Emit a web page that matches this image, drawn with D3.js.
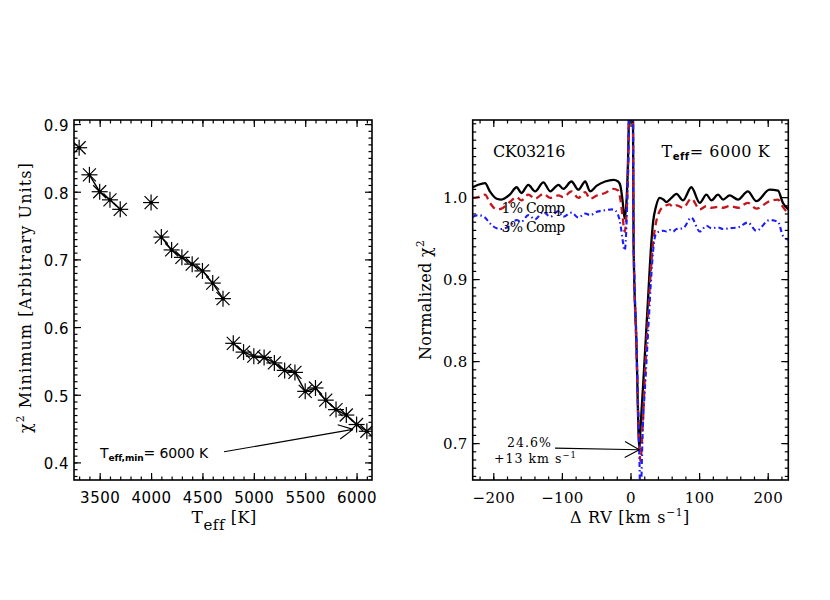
<!DOCTYPE html>
<html><head><meta charset="utf-8">
<script src="https://cdn.jsdelivr.net/npm/d3@7"></script>
<style>body{margin:0;background:#fff} text{white-space:pre}</style>
</head><body><svg id="c" width="830" height="600"></svg>
<script>
// ---------------- data: left panel ----------------
const teff = [3300,3400,3500,3600,3700,4000,4100,4200,4300,4400,4500,4600,4700,4800,4900,5000,5100,5200,5300,5400,5500,5600,5700,5800,5900,6000,6100];
const chi2Min = [0.865,0.825,0.800,0.788,0.774,0.784,0.733,0.714,0.703,0.693,0.683,0.665,0.642,0.576,0.563,0.557,0.555,0.547,0.536,0.533,0.505,0.510,0.492,0.478,0.470,0.456,0.446];
const lineRuns = [[3400,3700],[4100,4700],[4800,6100]];
const xTicksLeft = [3500,4000,4500,5000,5500,6000];
const yTicksLeft = [0.4,0.5,0.6,0.7,0.8,0.9];

// ---------------- data: right panel ----------------
const rv = [-230,-222,-212,-205,-195,-188,-176,-166,-159,-149,-139,-127,-117,-105,-98,-86,-76,-66,-59,-49,-37,-25,-18,-14.5,-11.5,-8.5,-5.5,-2,0.5,3.5,4.5,8.5,13,14.5,18,22,26,30,33,37,42.6,48,52.4,57,62,67,76.6,88.7,101,110.6,118,127.6,135,144.5,156.7,171,183.4,202.8,215,222,230];
const chiNoComp = [1.012,1.015,1.017,1.007,0.998,0.997,1.003,1.012,1.005,1.015,1.007,1.018,1.007,1.015,1.010,1.019,1.009,1.019,1.007,1.014,1.019,1.021,1.019,1.013,0.995,0.974,1.000,1.120,1.500,1.130,0.940,0.826,0.692,0.717,0.765,0.823,0.882,0.940,0.970,0.988,0.999,0.997,0.994,0.997,1.001,1.004,0.996,1.012,0.993,1.003,0.996,1.003,0.997,1.002,0.997,1.007,0.995,1.009,1.008,0.993,0.985];
const chi1Comp = [0.999,1.000,1.003,0.993,0.985,0.986,0.994,1.000,0.996,1.003,0.998,1.004,0.999,1.002,1.000,1.007,0.999,1.006,0.998,1.002,1.005,1.010,1.008,0.996,0.976,0.958,0.985,1.120,1.500,1.140,0.950,0.820,0.695,0.678,0.725,0.800,0.860,0.915,0.945,0.968,0.983,0.988,0.990,0.991,0.988,0.990,0.987,0.998,0.985,0.989,0.987,0.988,0.987,0.989,0.987,0.993,0.986,0.995,0.997,0.988,0.980];
const chi3Comp = [0.976,0.978,0.975,0.968,0.962,0.961,0.965,0.972,0.970,0.978,0.973,0.982,0.976,0.983,0.976,0.981,0.975,0.980,0.978,0.982,0.984,0.985,0.978,0.966,0.948,0.935,0.975,1.120,1.500,1.140,0.955,0.830,0.680,0.630,0.720,0.780,0.840,0.900,0.935,0.955,0.958,0.959,0.958,0.960,0.958,0.961,0.962,0.975,0.958,0.965,0.962,0.963,0.961,0.962,0.963,0.969,0.959,0.972,0.970,0.953,0.948];
const xTicksRight = [-200,-100,0,100,200];
const yTicksRight = [0.7,0.8,0.9,1.0];

// ---------------- drawing ----------------
const SERIF = "'DejaVu Serif', serif", SANS = "'DejaVu Sans', sans-serif";
const svg = d3.select("#c");

function rich(parent, x, y, parts, opts = {}) {
  const t = parent.append("text").attr("x", x).attr("y", y)
    .attr("text-anchor", opts.anchor || "start").attr("fill", "#000");
  if (opts.rotate) t.attr("transform", `rotate(${opts.rotate},${x},${y})`);
  let shift = 0;
  parts.forEach(p => {
    const s = p.shift || 0;
    t.append("tspan").attr("dy", s - shift).attr("font-size", p.size)
      .attr("font-family", p.font || SERIF).attr("font-weight", p.weight || "normal").text(p.t);
    shift = s;
  });
  if (opts.width) {
    const len = t.node().getComputedTextLength();
    const n = t.text().length;
    t.attr("letter-spacing", (opts.width - len) / n);
  }
  return t;
}

function arrow(g, x1, y1, x2, y2, len, angDeg) {
  g.append("line").attr("x1", x1).attr("y1", y1).attr("x2", x2).attr("y2", y2);
  const a = Math.atan2(y2 - y1, x2 - x1) + Math.PI, d = angDeg * Math.PI / 180;
  [a - d, a + d].forEach(b => g.append("line").attr("x1", x2).attr("y1", y2)
    .attr("x2", x2 + len * Math.cos(b)).attr("y2", y2 + len * Math.sin(b)));
}

function frame(g, x, y, box, xMaj, xMin, yMaj, yMin, xFmt, yFmt, font, fs, ls, labelDy) {
  const style = sel => {
    sel.select(".domain").remove();
    sel.selectAll("line").attr("stroke", "#000").attr("stroke-width", 1.2);
    sel.attr("font-family", font).attr("font-size", fs);
    sel.selectAll("text").attr("fill", "#000").attr("letter-spacing", ls);
  };
  const M = 7, m = 3.5;
  g.append("g").attr("transform", `translate(0,${box.y1})`)
    .call(d3.axisBottom(x).tickValues(xMaj).tickSize(-M).tickPadding(12.5).tickFormat(xFmt)).call(style);
  g.append("g").attr("transform", `translate(0,${box.y1})`)
    .call(d3.axisBottom(x).tickValues(xMin).tickSize(-m).tickFormat("")).call(style);
  g.append("g").attr("transform", `translate(0,${box.y0})`)
    .call(d3.axisTop(x).tickValues(xMaj).tickSize(-M).tickFormat("")).call(style);
  g.append("g").attr("transform", `translate(0,${box.y0})`)
    .call(d3.axisTop(x).tickValues(xMin).tickSize(-m).tickFormat("")).call(style);
  const la = g.append("g").attr("transform", `translate(${box.x0},0)`)
    .call(d3.axisLeft(y).tickValues(yMaj).tickSize(-M).tickPadding(5).tickFormat(yFmt)).call(style);
  la.selectAll("text").attr("dy", labelDy);
  g.append("g").attr("transform", `translate(${box.x0},0)`)
    .call(d3.axisLeft(y).tickValues(yMin).tickSize(-m).tickFormat("")).call(style);
  g.append("g").attr("transform", `translate(${box.x1},0)`)
    .call(d3.axisRight(y).tickValues(yMaj).tickSize(-M).tickFormat("")).call(style);
  g.append("g").attr("transform", `translate(${box.x1},0)`)
    .call(d3.axisRight(y).tickValues(yMin).tickSize(-m).tickFormat("")).call(style);
  g.append("rect").attr("x", box.x0).attr("y", box.y0)
    .attr("width", box.x1 - box.x0).attr("height", box.y1 - box.y0)
    .attr("fill", "none").attr("stroke", "#000").attr("stroke-width", 1.6);
}

// ======== Left panel ========
const L = {x0: 74, x1: 372, y0: 120, y1: 480};
const xL = d3.scaleLinear().domain([3250, 6150]).range([L.x0, L.x1]);
const yL = d3.scaleLinear().domain([0.374, 0.906]).range([L.y1, L.y0]);
const gL = svg.append("g");
svg.append("clipPath").attr("id", "clipL").append("rect")
  .attr("x", L.x0).attr("y", L.y0).attr("width", L.x1 - L.x0).attr("height", L.y1 - L.y0);
const ptsL = teff.map((t, i) => [t, chi2Min[i]]);
const pl = gL.append("g").attr("clip-path", "url(#clipL)");
const lineL = d3.line().x(d => xL(d[0])).y(d => yL(d[1]));
lineRuns.forEach(([a, b]) => {
  pl.append("path").datum(ptsL.filter(d => d[0] >= a && d[0] <= b))
    .attr("d", lineL).attr("fill", "none").attr("stroke", "#000").attr("stroke-width", 1.4);
});
const star = pl.selectAll("g.star").data(ptsL).join("g")
  .attr("transform", d => `translate(${xL(d[0])},${yL(d[1])})`)
  .attr("stroke", "#000").attr("stroke-width", 1.2);
[[-8, 0, 8, 0], [0, -8, 0, 8], [-6.5, -6.5, 6.5, 6.5], [-6.5, 6.5, 6.5, -6.5]].forEach(([a, b, c, d]) =>
  star.append("line").attr("x1", a).attr("y1", b).attr("x2", c).attr("y2", d));
star.append("circle").attr("r", 1.9).attr("fill", "#000").attr("stroke", "none");

frame(gL, xL, yL, L, xTicksLeft, d3.range(3300, 6101, 100), yTicksLeft,
  d3.range(38, 91).map(v => v / 100), d3.format("d"), d3.format(".1f"), SANS, 15, 0.5, "0.42em");

rich(gL, 31, 297.5, [{t: "χ", size: 16}, {t: "2", size: 10.5, shift: -7}, {t: " Minimum [Arbitrary Units]", size: 16, shift: 0}],
  {anchor: "middle", rotate: -90, width: 271});
rich(gL, 191.5, 522.5, [{t: "T", size: 17}, {t: "eff", size: 15, shift: 7}, {t: " [K]", size: 16, shift: 0}], {width: 65});
rich(gL, 100, 458, [{t: "T", size: 14, font: SANS}, {t: "eff,min", size: 9, font: SANS, weight: "bold", shift: 3},
  {t: "= 6000 K", size: 14, font: SANS, shift: 0}], {width: 108});
const aL = gL.append("g").attr("stroke", "#000").attr("stroke-width", 1.1);
arrow(aL, xL(4710), yL(0.4157), xL(5965), yL(0.4488), 16, 27);

// ======== Right panel ========
const R = {x0: 472.7, x1: 788.3, y0: 120, y1: 480};
const xR = d3.scaleLinear().domain([-230, 230]).range([R.x0, R.x1]);
const yR = d3.scaleLinear().domain([0.655, 1.094]).range([R.y1, R.y0]);
const gR = svg.append("g");
svg.append("clipPath").attr("id", "clipR").append("rect")
  .attr("x", R.x0).attr("y", R.y0).attr("width", R.x1 - R.x0).attr("height", R.y1 - R.y0);
const pr = gR.append("g").attr("clip-path", "url(#clipR)");
const lineR = d3.line().x(d => xR(d[0])).y(d => yR(d[1])).curve(d3.curveMonotoneX);
const series = [
  {v: chiNoComp, color: "#000", w: 2.3, dash: null},
  {v: chi1Comp, color: "#c4161c", w: 2.3, dash: "7,4.5"},
  {v: chi3Comp, color: "#1c1cff", w: 2.1, dash: "5,3,1.5,3"}
];
series.forEach(s => {
  pr.append("path").datum(rv.map((r, i) => [r, s.v[i]])).attr("d", lineR)
    .attr("fill", "none").attr("stroke", s.color).attr("stroke-width", s.w)
    .attr("stroke-dasharray", s.dash).attr("stroke-linejoin", "round");
});

frame(gR, xR, yR, R, xTicksRight, d3.range(-220, 221, 20), yTicksRight,
  d3.range(66, 110).map(v => v / 100), d3.format("d"), d3.format(".1f"), SERIF, 15, 0.3, "0.34em");

rich(gR, 431, 300, [{t: "Normalized χ", size: 16}, {t: "2", size: 10.5, shift: -7}], {anchor: "middle", rotate: -90, width: 120});
rich(gR, 570, 523, [{t: "Δ RV [km s", size: 16}, {t: "−1", size: 10.5, shift: -7}, {t: "]", size: 16, shift: 0}], {width: 120});
rich(gR, 493, 157, [{t: "CK03216", size: 16}], {width: 72});
rich(gR, 661.5, 157, [{t: "T", size: 16}, {t: "eff", size: 10, font: SANS, weight: "bold", shift: 3},
  {t: "= 6000 K", size: 16, shift: 0}], {width: 108});
rich(gR, 501.5, 213, [{t: "1% Comp", size: 14}], {width: 63});
rich(gR, 501.5, 232, [{t: "3% Comp", size: 14}], {width: 63});
rich(gR, 507, 447, [{t: "24.6%", size: 12.5}], {width: 45});
rich(gR, 494, 462.5, [{t: "+13 km s", size: 12.5}, {t: "−1", size: 8.5, shift: -5}], {width: 83});
const aR = gR.append("g").attr("stroke", "#000").attr("stroke-width", 1.1);
arrow(aR, xR(-110), yR(0.6939), xR(12.8), yR(0.6918), 16.5, 29);
</script>
</body></html>
